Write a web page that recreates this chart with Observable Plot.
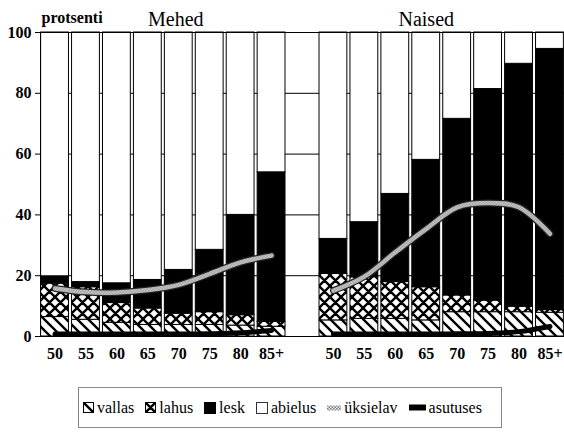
<!DOCTYPE html>
<html><head><meta charset="utf-8">
<script src="https://cdn.jsdelivr.net/npm/d3@7"></script>
<script src="https://cdn.jsdelivr.net/npm/@observablehq/plot@0.6"></script>
<style>
body{margin:0;background:#fff;font-family:"Liberation Serif","Times New Roman","DejaVu Serif",serif;color:#000;width:564px;height:434px;position:relative;overflow:hidden}
#legend{position:absolute;left:78px;top:387px;width:424px;height:41px;border:1px solid #888;box-sizing:border-box}
#legend .inner{position:absolute;left:4px;top:0;height:39px;display:flex;align-items:center;font-size:16px;white-space:nowrap}
.item{display:flex;align-items:center;margin-right:11px}
.item svg{margin-right:3px;display:block}
</style></head><body>
<svg width="0" height="0" style="position:absolute">
<defs>
<pattern id="diag" patternUnits="userSpaceOnUse" width="11" height="11">
<rect width="11" height="11" fill="white"/>
<path d="M-2,-2L13,13M-2,9L2,13M9,-2L13,2" stroke="black" stroke-width="2.4"/>
</pattern>
<pattern id="cross" patternUnits="userSpaceOnUse" width="11" height="11">
<rect width="11" height="11" fill="white"/>
<path d="M-2,-2L13,13M-2,9L2,13M9,-2L13,2M13,-2L-2,13M2,-2L-2,2M13,9L9,13" stroke="black" stroke-width="2.4"/>
</pattern>
<pattern id="checker" patternUnits="userSpaceOnUse" width="3" height="3">
<rect width="3" height="3" fill="#f2f2f2"/>
<rect width="1.5" height="1.5" fill="#777"/>
<rect x="1.5" y="1.5" width="1.5" height="1.5" fill="#777"/>
</pattern>
</defs>
</svg>
<div id="chart"></div>
<div id="legend"><div class="inner">
<div class="item"><svg width="11" height="11"><rect x="0.5" y="0.5" width="10" height="10" fill="url(#diag)" stroke="black"/></svg>vallas</div>
<div class="item"><svg width="11" height="11"><rect x="0.5" y="0.5" width="10" height="10" fill="url(#cross)" stroke="black"/></svg>lahus</div>
<div class="item"><svg width="12" height="12"><rect x="0.5" y="0.5" width="11" height="11" fill="black" stroke="black"/></svg>lesk</div>
<div class="item"><svg width="12" height="12"><rect x="0.5" y="0.5" width="11" height="11" fill="white" stroke="#333"/></svg>abielus</div>
<div class="item"><svg width="14" height="6"><rect x="0" y="0.5" width="14" height="5" fill="url(#checker)"/></svg>üksielav</div>
<div class="item"><svg width="17" height="7"><rect x="0" y="0.5" width="17" height="6" fill="black"/></svg>asutuses</div>
</div></div>
<script>
const ages = ["50","55","60","65","70","75","80","85+"];
const statuses = ["vallas","lahus","lesk","abielus"];

const menVallas   = [6.4, 5.5, 4.5, 3.8, 3.8, 3.8, 3.6, 3.2];
const menLahus    = [11.0, 10.7, 6.5, 5.4, 3.7, 4.2, 3.4, 1.6];
const menLesk     = [2.4, 1.7, 6.5, 9.4, 14.4, 20.5, 33.0, 49.2];
const menAbielus  = [80.2, 82.1, 82.5, 81.4, 78.1, 71.5, 60.0, 46.0];
const menUksielav = [15.8, 14.6, 14.5, 15.3, 17.0, 20.6, 24.4, 26.6];
const menAsutuses = [0.8, 0.8, 0.8, 0.8, 0.8, 0.9, 1.2, 2.0];

const womenVallas   = [5.3, 5.8, 5.8, 5.3, 8.0, 8.0, 8.0, 7.8];
const womenLahus    = [15.3, 13.7, 12.1, 10.9, 5.5, 3.8, 1.8, 0.9];
const womenLesk     = [11.5, 18.1, 29.0, 41.9, 58.1, 69.6, 79.9, 85.9];
const womenAbielus  = [67.9, 62.4, 53.1, 41.9, 28.4, 18.6, 10.3, 5.4];
const womenUksielav = [15.1, 19.7, 27.7, 35.4, 42.5, 43.9, 42.5, 33.8];
const womenAsutuses = [0.8, 0.8, 0.8, 0.8, 0.9, 1.0, 1.6, 3.3];

const groups = [
  {prefix: "M", series: [menVallas, menLahus, menLesk, menAbielus], uks: menUksielav, asut: menAsutuses},
  {prefix: "N", series: [womenVallas, womenLahus, womenLesk, womenAbielus], uks: womenUksielav, asut: womenAsutuses}
];
const keys = [...ages.map(a => "M" + a), "gap", ...ages.map(a => "N" + a)];

const bars = [];
const lines = [];
groups.forEach(g => {
  ages.forEach((a, i) => {
    statuses.forEach((s, j) => bars.push({key: g.prefix + a, status: s, value: g.series[j][i]}));
    lines.push({key: g.prefix + a, group: g.prefix, uks: g.uks[i], asut: g.asut[i]});
  });
});
const menTitle = [{key: "M70", label: "Mehed"}];
const womenTitle = [{key: "N65", label: "Naised"}];
const yLabel = [{key: "M50", label: "protsenti"}];
const serif = '"Liberation Serif", "Times New Roman", "DejaVu Serif", serif';

const chart = Plot.plot({
  width: 564, height: 370,
  marginTop: 32, marginBottom: 34, marginLeft: 40, marginRight: 0,
  style: {fontFamily: serif, fontSize: "16px", fontWeight: "bold", color: "black", background: "white", overflow: "visible"},
  x: {type: "band", domain: keys, round: false, paddingInner: 0.1, paddingOuter: 0.02, tickSize: 0, tickPadding: 11,
      tickFormat: k => k === "gap" ? "" : k.slice(1), label: null},
  y: {domain: [0, 100], ticks: [0, 20, 40, 60, 80, 100], tickSize: 5, label: null},
  color: {type: "ordinal", domain: statuses, range: ["url(#diag)", "url(#cross)", "black", "white"]},
  marks: [
    Plot.ruleY([20, 40, 60, 80], {stroke: "black", strokeWidth: 1}),
    Plot.barY(bars, {x: "key", y: "value", fill: "status", stroke: "black", strokeWidth: 1}),
    Plot.frame({stroke: "black"}),
    Plot.line(lines, {x: "key", y: "asut", z: "group", stroke: "black", strokeWidth: 5, curve: "monotone-x"}),
    Plot.line(lines, {x: "key", y: "uks", z: "group", stroke: "#222", strokeWidth: 7, curve: "catmull-rom"}),
    Plot.line(lines, {x: "key", y: "uks", z: "group", stroke: "url(#checker)", strokeWidth: 4.5, curve: "catmull-rom"}),
    Plot.text(menTitle, {x: "key", text: "label", frameAnchor: "top", lineAnchor: "middle", dy: -13.4, dx: -3, fontSize: 20, fontWeight: "normal"}),
    Plot.text(womenTitle, {x: "key", text: "label", frameAnchor: "top", lineAnchor: "middle", dy: -13.4, dx: 0, fontSize: 20, fontWeight: "normal"}),
    Plot.text(yLabel, {x: "key", text: "label", frameAnchor: "top", lineAnchor: "middle", dy: -15, dx: -13.5, textAnchor: "start", fontSize: 16, fontWeight: "bold"})
  ]
});
document.getElementById("chart").appendChild(chart);
</script>
</body></html>
